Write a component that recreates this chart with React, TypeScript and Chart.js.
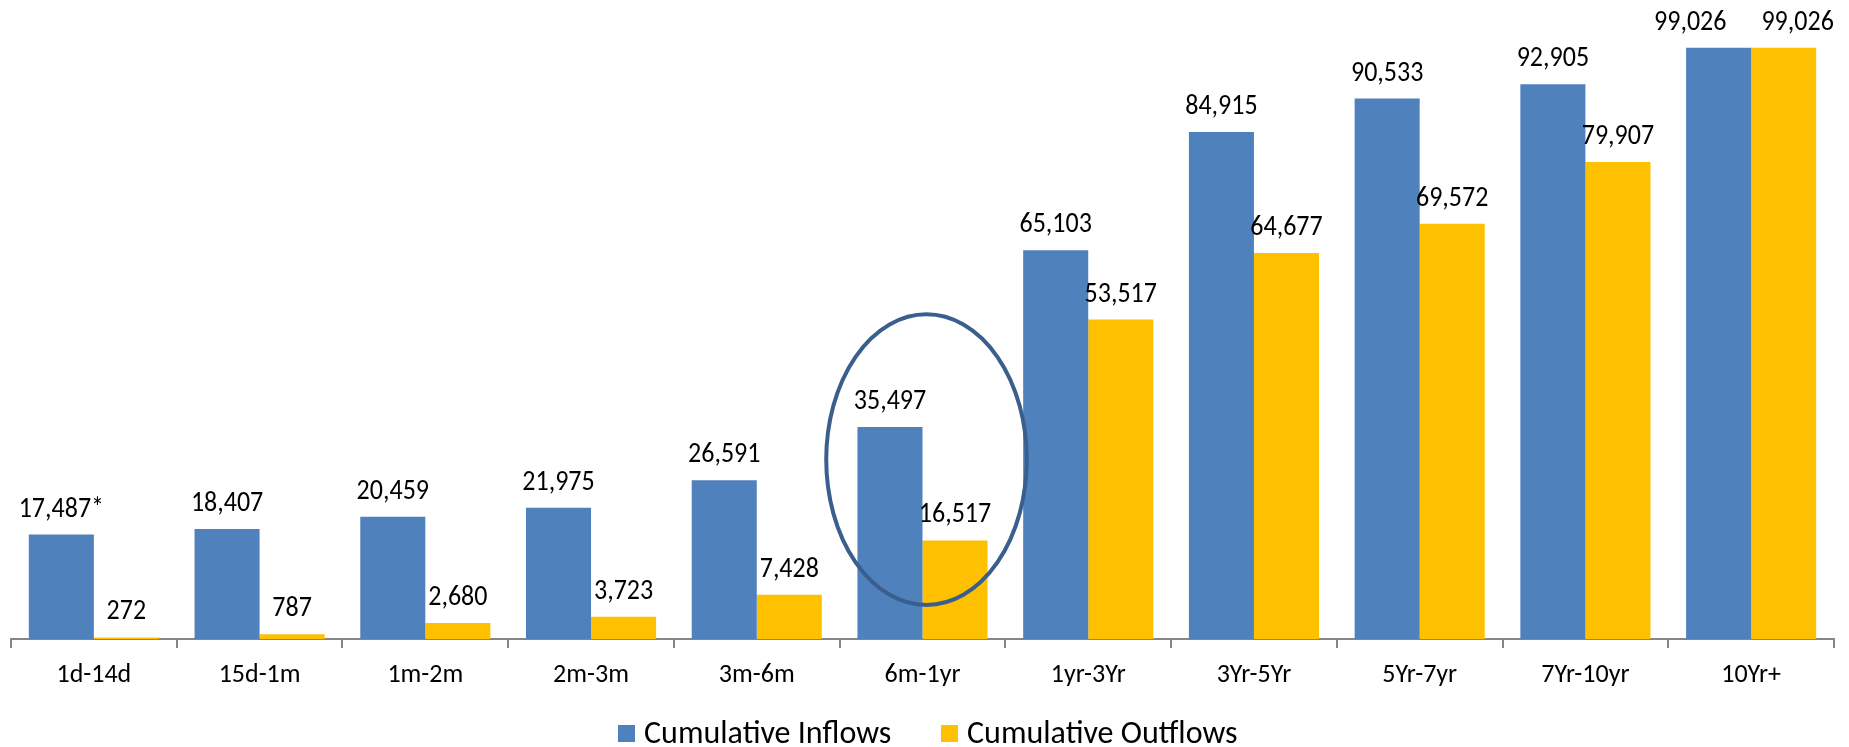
import React, { useEffect, useRef } from "react";
import { Chart, registerables } from "chart.js";

Chart.register(...registerables);

const categories = ["1d-14d", "15d-1m", "1m-2m", "2m-3m", "3m-6m", "6m-1yr", "1yr-3Yr", "3Yr-5Yr", "5Yr-7yr", "7Yr-10yr", "10Yr+"];
const inflows = [17487, 18407, 20459, 21975, 26591, 35497, 65103, 84915, 90533, 92905, 99026];
const outflows = [272, 787, 2680, 3723, 7428, 16517, 53517, 64677, 69572, 79907, 99026];
const inflowSuffix = ["*", "", "", "", "", "", "", "", "", "", ""];
const outflowSuffix = ["", "", "", "", "", "", "", "", "", "", ""];
const seriesNames = ["Cumulative Inflows", "Cumulative Outflows"];
const highlightIndex = 5;
const highlightRange = [5700, 54400];

const BLUE = "#4F81BD";
const GOLD = "#FFC000";
const FONT = "Carlito, Calibri, 'Open Sans', sans-serif";
const LABEL_SIZE = 26;
const LEGEND_SIZE = 32;

const fmt = (v: number) => v.toLocaleString("en-US");

export default function App() {
  const ref = useRef<HTMLCanvasElement | null>(null);
  useEffect(() => {
    document.body.style.margin = "0";
    const canvas = ref.current!;
    const labelPlugin = {
      id: "valueLabels",
      afterDatasetsDraw(chart: any) {
        const ctx = chart.ctx;
        ctx.save();
        ctx.font = `${LABEL_SIZE}px ${FONT}`;
        ctx.fillStyle = "#000";
        ctx.textAlign = "center";
        ctx.textBaseline = "alphabetic";
        const suffixes = [inflowSuffix, outflowSuffix];
        const metaA = chart.getDatasetMeta(0);
        const metaB = chart.getDatasetMeta(1);
        const draw = (t: string, x: number, y: number) => {
          ctx.save();
          ctx.translate(x, y);
          ctx.scale(1, 1.07);
          ctx.fillText(t, 0, 0);
          ctx.restore();
        };
        categories.forEach((_, i) => {
          const a = metaA.data[i];
          const b = metaB.data[i];
          const ta = fmt(inflows[i]) + suffixes[0][i];
          const tb = fmt(outflows[i]) + suffixes[1][i];
          let xa = a.x;
          let xb = b.x;
          const wa = ctx.measureText(ta).width;
          const wb = ctx.measureText(tb).width;
          if (Math.abs(a.y - b.y) < LABEL_SIZE) {
            const need = (wa + wb) / 2 + 35;
            const have = xb - xa;
            if (have < need) {
              const d = need - have;
              xa -= d * 0.67;
              xb += d * 0.33;
            }
          }
          draw(ta, xa, a.y - 18);
          draw(tb, xb, b.y - 18);
        });
        // highlight ellipse
        const xs = chart.scales.x;
        const ys = chart.scales.y;
        const cx = xs.getPixelForValue(highlightIndex) + 4;
        const catW = xs.width / categories.length;
        const top = ys.getPixelForValue(highlightRange[1]);
        const bot = ys.getPixelForValue(highlightRange[0]);
        ctx.beginPath();
        ctx.ellipse(cx, (top + bot) / 2, catW * 0.605, (bot - top) / 2, 0, 0, Math.PI * 2);
        ctx.lineWidth = 4;
        ctx.strokeStyle = "#3A5F8C";
        ctx.stroke();
        // legend
        ctx.font = `${LEGEND_SIZE}px ${FONT}`;
        ctx.textAlign = "left";
        ctx.textBaseline = "alphabetic";
        const baseline = 743;
        const colors = [BLUE, GOLD];
        const starts = [618, 941];
        seriesNames.forEach((name, i) => {
          const x = starts[i];
          ctx.fillStyle = colors[i];
          ctx.fillRect(x, 725, 17, 17);
          ctx.fillStyle = "#000";
          ctx.fillText(name, x + 26, baseline);
        });
        ctx.restore();
      },
    };
    const chart = new Chart(canvas, {
      type: "bar",
      data: {
        labels: categories,
        datasets: [
          { label: seriesNames[0], data: inflows, backgroundColor: BLUE, categoryPercentage: 0.785, barPercentage: 1 },
          { label: seriesNames[1], data: outflows, backgroundColor: GOLD, categoryPercentage: 0.785, barPercentage: 1 },
        ],
      },
      options: {
        responsive: false,
        animation: false,
        layout: { padding: { left: 11, right: 15, top: 42, bottom: 0 } },
        plugins: { legend: { display: false }, tooltip: { enabled: false } },
        scales: {
          x: {
            offset: true,
            grid: { display: true, drawOnChartArea: false, offset: true, tickLength: 9, color: "#868686", lineWidth: 2 },
            border: { display: true, color: "#868686", width: 2 },
            ticks: { font: { family: FONT, size: LABEL_SIZE }, color: "#000", padding: 12, maxRotation: 0 },
            afterFit: (s: any) => { s.height = 108; },
          },
          y: { display: false, min: 0, max: 100000 },
        },
      },
      plugins: [labelPlugin],
    });
    return () => chart.destroy();
  }, []);
  return (
    <div style={{ position: "fixed", left: 0, top: 0, width: 1849, height: 747, background: "#fff" }}>
      <canvas ref={ref} width={1849} height={747} />
    </div>
  );
}
